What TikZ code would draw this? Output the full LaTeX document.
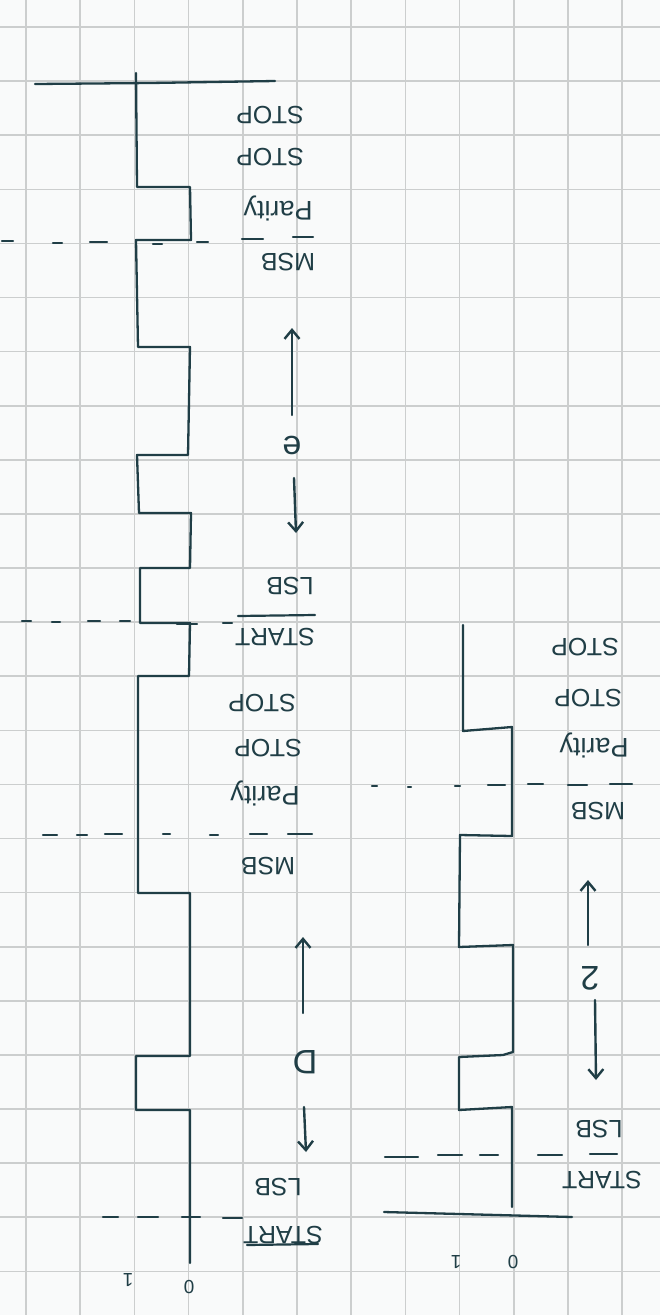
\documentclass[tikz,border=0pt]{standalone}
\usepackage{fontspec}
\setmainfont{Liberation Sans}
\usetikzlibrary{arrows.meta}
\definecolor{ink}{RGB}{32,62,70}
\definecolor{gridc}{RGB}{204,206,206}
\definecolor{paper}{RGB}{249,250,250}
\begin{document}
\begin{tikzpicture}[x=1pt,y=-1pt,
  wave/.style={draw=ink,line width=2.3pt,line join=round,line cap=round},
  dsh/.style={draw=ink,line width=2.2pt,line cap=round},
  lbl/.style={text=ink,font=\fontsize{25}{25}\selectfont,rotate=180,inner sep=0pt},
  par/.style={text=ink,font=\fontsize{27}{27}\selectfont,rotate=180,inner sep=0pt},
  big/.style={text=ink,font=\fontsize{34}{34}\selectfont,rotate=180,inner sep=0pt},
  axl/.style={text=ink,font=\fontsize{19}{19}\selectfont,rotate=180,inner sep=0pt},
  arr/.style={draw=ink,line width=2.4pt,line cap=round,-{Straight Barb[length=9pt,width=15pt,line width=2.4pt]}}]
\useasboundingbox (0,0) rectangle (660,1315);
\fill[paper] (0,0) rectangle (660,1315);
% grid
\foreach \i in {0,...,11} \draw[gridc,line width=1.6pt] ({26+54.2*\i},0) -- ({26+54.2*\i},1315);
\foreach \j in {0,...,23} \draw[gridc,line width=1.6pt] (0,{27+54.1*\j}) -- (660,{27+54.1*\j});

% ---------- left waveform ----------
\draw[wave] (190,1263) -- (190,1110) -- (136,1110) -- (136,1056) -- (190,1056) -- (190,893)
  -- (138,893) -- (138,676) -- (189,676) -- (190,623) -- (140,623) -- (140,568) -- (190,568)
  -- (191,513) -- (139,513) -- (137,455) -- (188,455) -- (190,347) -- (138,347) -- (136,240)
  -- (191,240) -- (190,187) -- (137,187) -- (136,73);
\draw[wave] (35,84) -- (150,83) -- (275,81);

% dashed lines left
\foreach \a/\b/\y in {103/118/1217,138/158/1217,182/200/1217,223/242/1218}
  \draw[dsh] (\a,\y) -- (\b,\y);
\draw[dsh] (247,1245) -- (318,1244);
\foreach \a/\b/\y in {43/57/835,77/87/835,105/122/834,163/170/834,210/218/835,250/267/834,288/312/834}
  \draw[dsh] (\a,\y) -- (\b,\y);
\foreach \a/\b/\y in {22/31/621,52/60/622,88/100/621,120/130/621,177/197/624,223/232/623}
  \draw[dsh] (\a,\y) -- (\b,\y);
\draw[dsh] (238,616) -- (315,615);
\foreach \a/\b/\y in {2/13/241,53/62/243,90/107/242,153/162/244,197/208/242,242/263/239,293/313/237}
  \draw[dsh] (\a,\y) -- (\b,\y);

% labels frame 1
\node[lbl] (stopa1) at (270,115) {STOP};
\node[lbl] (stopa2) at (270,157) {STOP};
\node[par] (parA) at (278,208) {Parity};
\node[lbl] (msbA) at (288,262) {MSB};
\node[big] (chA) at (292,445) {e};
\node[lbl] (lsbA) at (290,586) {LSB};
\node[lbl] (startA) at (275,637) {START};
\coordinate (a1t) at (292,415); \coordinate (a1h) at (292,328);
\coordinate (a2t) at (294,478); \coordinate (a2h) at (296,533);
\draw[arr] (a1t) -- (a1h);
\draw[arr] (a2t) -- (a2h);

% labels frame 2
\node[lbl] (stopb1) at (262,703) {STOP};
\node[lbl] (stopb2) at (268,748) {STOP};
\node[par] (parB) at (265,793) {Parity};
\node[lbl] (msbB) at (268,866) {MSB};
\node[big] (chB) at (305,1062) {D};
\node[lbl] (lsbB) at (278,1187) {LSB};
\node[lbl] (startB) at (283,1235) {START};
\coordinate (b1t) at (303,1013); \coordinate (b1h) at (303,937);
\coordinate (b2t) at (304,1107); \coordinate (b2h) at (306,1152);
\draw[arr] (b1t) -- (b1h);
\draw[arr] (b2t) -- (b2h);

\node[axl] (one1) at (128,1280) {1};
\node[axl] (zero1) at (189,1287) {0};

% ---------- right waveform ----------
\draw[wave] (512,1207) -- (512,1107) -- (459,1110) -- (459,1057) -- (503,1055) -- (513,1052)
  -- (513,945) -- (459,947) -- (460,835) -- (512,836) -- (512,727) -- (463,731) -- (463,625);
\draw[wave] (384,1212) -- (572,1217);
\foreach \a/\b/\y in {385/418/1157,438/462/1155,480/498/1155,538/562/1155,590/617/1154}
  \draw[dsh] (\a,\y) -- (\b,\y);
\foreach \a/\b/\y in {372/377/786,408/411/787,455/460/786,488/505/785,528/543/784,568/587/785,610/632/784}
  \draw[dsh] (\a,\y) -- (\b,\y);

\node[lbl] (stopc1) at (585,647) {STOP};
\node[lbl] (stopc2) at (588,698) {STOP};
\node[par] (parC) at (594,745) {Parity};
\node[lbl] (msbC) at (598,811) {MSB};
\node[big] (chC) at (590,978) {2};
\node[lbl] (lsbC) at (599,1129) {LSB};
\node[lbl] (startC) at (602,1180) {START};
\coordinate (c1t) at (588,945); \coordinate (c1h) at (588,880);
\coordinate (c2t) at (595,1000); \coordinate (c2h) at (596,1080);
\draw[arr] (c1t) -- (c1h);
\draw[arr] (c2t) -- (c2h);

\node[axl] (one2) at (456,1262) {1};
\node[axl] (zero2) at (513,1262) {0};
\end{tikzpicture}
\end{document}
